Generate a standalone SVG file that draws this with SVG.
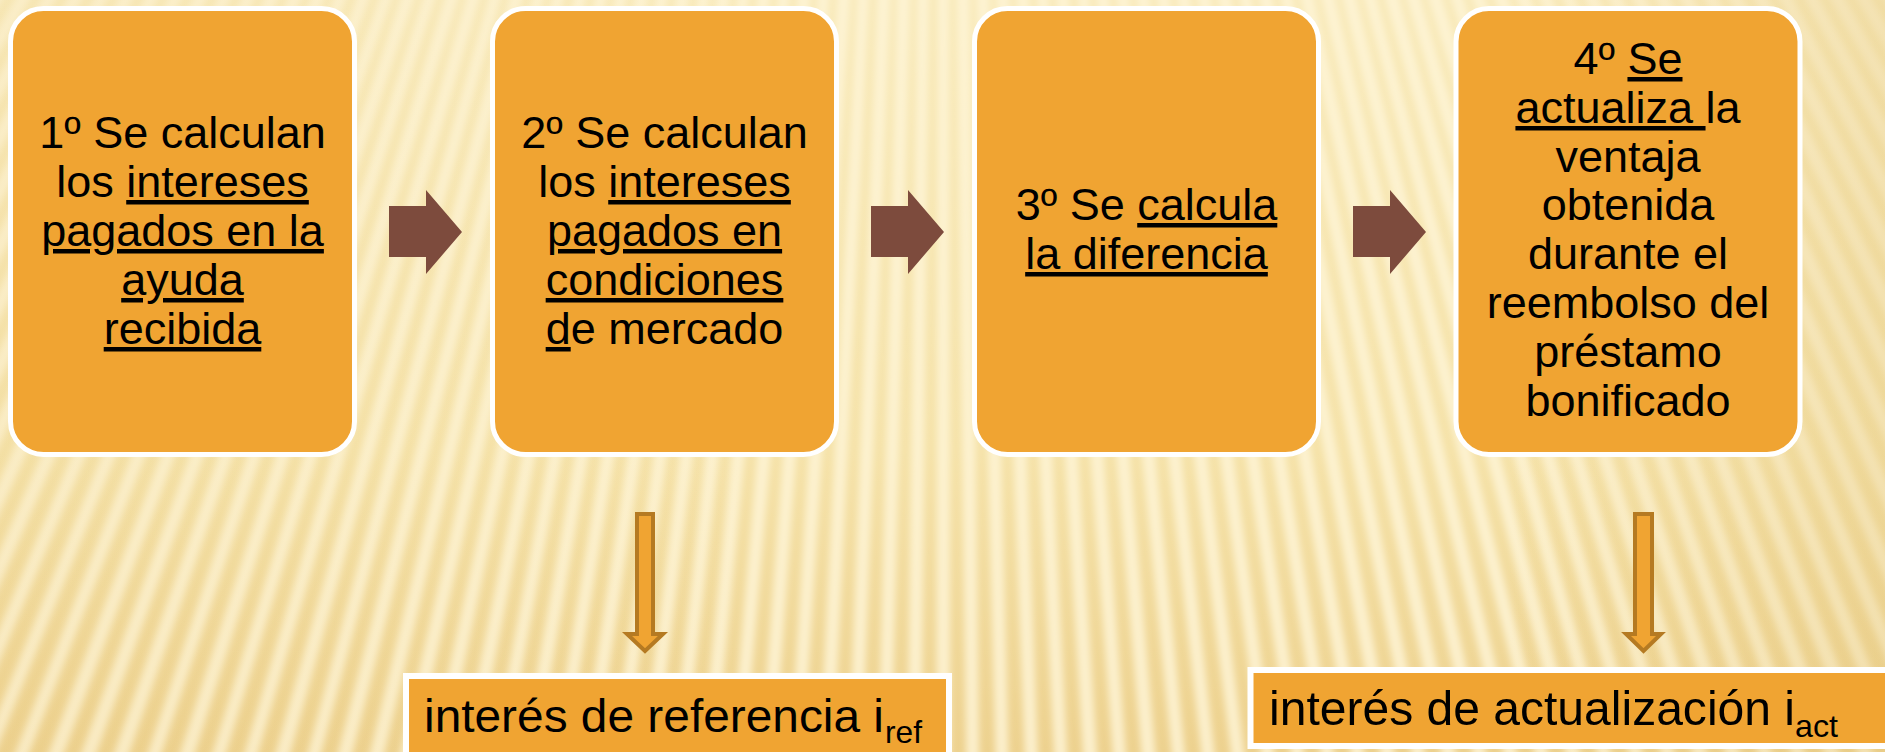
<svg xmlns="http://www.w3.org/2000/svg" width="1885" height="752" viewBox="0 0 1885 752">
<style>
.box{fill:#F0A432;stroke:#FFFFFF;stroke-width:5}
.t{font-family:"Liberation Sans",Arial,sans-serif;font-size:45px;fill:#000;text-anchor:middle}
.u{text-decoration:underline}
.lbl{font-family:"Liberation Sans",Arial,sans-serif;font-size:47px;fill:#000}
.sub{font-family:"Liberation Sans",Arial,sans-serif;font-size:32px;fill:#000}
.ra{fill:#7D4B3D}
.da{fill:#F0A432;stroke:#B57A22;stroke-width:4;stroke-linejoin:miter}
</style>
<defs>
<linearGradient id="vg" x1="0" y1="0" x2="0" y2="1">
<stop offset="0" stop-color="#F8E9B8"/>
<stop offset="0.6" stop-color="#F5E2A8"/>
<stop offset="1" stop-color="#EDD18E"/>
</linearGradient>
<linearGradient id="hg" x1="0" y1="0" x2="1" y2="0">
<stop offset="0" stop-color="#E6C77E" stop-opacity="0.12"/>
<stop offset="0.4" stop-color="#E6C77E" stop-opacity="0"/>
<stop offset="0.8" stop-color="#E6C77E" stop-opacity="0"/>
<stop offset="1" stop-color="#E2C47A" stop-opacity="0.35"/>
</linearGradient>
<filter id="bl" filterUnits="userSpaceOnUse" x="0" y="0" width="1885" height="752">
<feGaussianBlur stdDeviation="3.5"/>
</filter>
</defs>
<g id="background">
<rect x="0" y="0" width="1885" height="752" fill="url(#vg)"/>
<circle cx="943" cy="-1600" r="2090" fill="none" stroke="#FEF5D6" stroke-opacity="0.85" stroke-width="1100" stroke-dasharray="13 13" filter="url(#bl)"/>
<rect x="0" y="0" width="1885" height="752" fill="url(#hg)"/>
</g>
<g id="connectors">
<polygon class="ra" points="389,206 426,206 426,190 462,232 426,274 426,257 389,257"/>
<polygon class="ra" points="871,206 908,206 908,190 944,232 908,274 908,257 871,257"/>
<polygon class="ra" points="1353,206 1390,206 1390,190 1426,232 1390,274 1390,257 1353,257"/>
<polygon class="da" points="637,514 653,514 653,634 663,634 645,651 627,634 637,634"/>
<polygon class="da" points="1635,514 1652,514 1652,634 1661,634 1643.5,651 1626,634 1635,634"/>
</g>
<g id="step1">
<rect class="box" x="10.5" y="8.5" width="344" height="446" rx="33"/>
<text class="t" x="182.5" y="148">1º Se calculan</text>
<text class="t" x="182.5" y="197">los <tspan class="u">intereses</tspan></text>
<text class="t u" x="182.5" y="246">pagados en la</text>
<text class="t u" x="182.5" y="295">ayuda</text>
<text class="t u" x="182.5" y="344">recibida</text>
</g>
<g id="step2">
<rect class="box" x="492.5" y="8.5" width="344" height="446" rx="33"/>
<text class="t" x="664.5" y="148">2º Se calculan</text>
<text class="t" x="664.5" y="197">los <tspan class="u">intereses</tspan></text>
<text class="t u" x="664.5" y="246">pagados en</text>
<text class="t u" x="664.5" y="295">condiciones</text>
<text class="t" x="664.5" y="344"><tspan class="u">d</tspan>e mercado</text>
</g>
<g id="step3">
<rect class="box" x="974.5" y="8.5" width="344" height="446" rx="33"/>
<text class="t" x="1146.5" y="220">3º Se <tspan class="u">calcula</tspan></text>
<text class="t u" x="1146.5" y="269">la diferencia</text>
</g>
<g id="step4">
<rect class="box" x="1456" y="8.5" width="344" height="446" rx="33"/>
<text class="t" x="1628" y="74">4º <tspan class="u">Se</tspan></text>
<text class="t" x="1628" y="123"><tspan class="u">actualiza </tspan>la</text>
<text class="t" x="1628" y="172">ventaja</text>
<text class="t" x="1628" y="220">obtenida</text>
<text class="t" x="1628" y="269">durante el</text>
<text class="t" x="1628" y="318">reembolso del</text>
<text class="t" x="1628" y="367">préstamo</text>
<text class="t" x="1628" y="416">bonificado</text>
</g>
<g id="iref">
<rect x="406" y="676" width="543" height="90" fill="#F0A432" stroke="#FFFFFF" stroke-width="6"/>
<text class="lbl" x="424" y="732" textLength="460" lengthAdjust="spacingAndGlyphs">interés de referencia i</text>
<text class="sub" x="885" y="743" textLength="37" lengthAdjust="spacingAndGlyphs">ref</text>
</g>
<g id="iact">
<rect x="1250.5" y="670" width="640" height="76" fill="#F0A432" stroke="#FFFFFF" stroke-width="6"/>
<text class="lbl" x="1269" y="725" textLength="526" lengthAdjust="spacingAndGlyphs" style="font-size:48px">interés de actualización i</text>
<text class="sub" x="1795" y="737" textLength="43" lengthAdjust="spacingAndGlyphs">act</text>
</g>
</svg>
